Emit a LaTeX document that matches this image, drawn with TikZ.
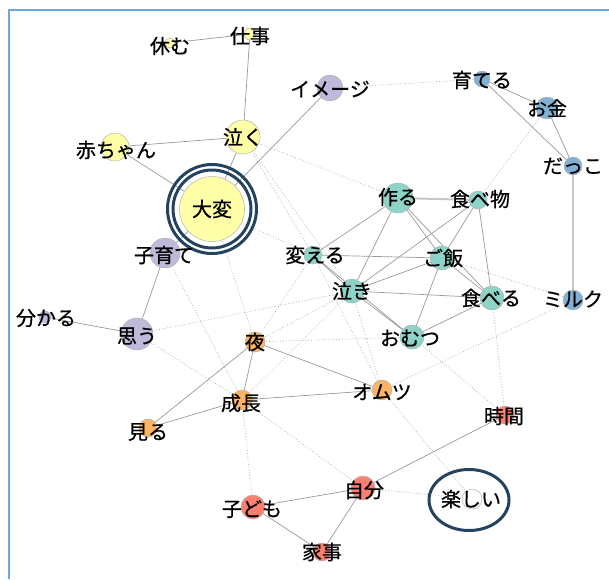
\documentclass[tikz,border=0pt]{standalone}
\usepackage{fontspec}
\usetikzlibrary{shapes.geometric}
\newfontfamily\jp[FakeBold=0.6]{Noto Sans CJK JP}
\definecolor{cY}{HTML}{FFFFA8}
\definecolor{cP}{HTML}{BEBADA}
\definecolor{cT}{HTML}{8DD3C7}
\definecolor{cB}{HTML}{80B1D3}
\definecolor{cO}{HTML}{FDB462}
\definecolor{cR}{HTML}{FB8072}
\definecolor{navy}{HTML}{24435F}
\definecolor{frame}{HTML}{6FA8DC}
\begin{document}
\begin{tikzpicture}[x=1pt,y=-1pt,
  co/.style={draw=black!40, line width=0.7pt},
  cothick/.style={draw=black!22, line width=2pt},
  dot/.style={draw=black!32, line width=0.7pt, dash pattern=on 0.8pt off 2pt},
  circ/.style={circle, draw=black!30, line width=0.5pt, inner sep=0pt},
  lab/.style={font=\jp\fontsize{20}{20}\selectfont, inner sep=0pt, text=black},
  ring/.style={draw=navy, line width=3pt}]
\useasboundingbox (0,0) rectangle (609,579);
\draw[frame, line width=2pt] (9,579) -- (9,10) -- (610,10);
% coordinates (circle centres)
\coordinate (shigoto) at (250,34);
\coordinate (yasumu) at (170,43);
\coordinate (naku) at (243,137);
\coordinate (akachan) at (115,147);
\coordinate (taihen) at (212,209);
\coordinate (image) at (330,88);
\coordinate (kosodate) at (165,253);
\coordinate (omou) at (137,334);
\coordinate (wakaru) at (45,317);
\coordinate (yoru) at (255,342);
\coordinate (seichou) at (242,400);
\coordinate (omutsuK) at (382,390);
\coordinate (miru) at (148,428);
\coordinate (jikan) at (505,415);
\coordinate (jibun) at (363,488);
\coordinate (kodomo) at (253,507);
\coordinate (kaji) at (322,552);
\coordinate (tanoshii) at (472,499);
\coordinate (tsukuru) at (398,198);
\coordinate (tabemono) at (478,200);
\coordinate (kaeru) at (313,255);
\coordinate (gohan) at (442,258);
\coordinate (naki) at (352,291);
\coordinate (taberu) at (492,298);
\coordinate (omutsu) at (412,337);
\coordinate (sodateru) at (482,79);
\coordinate (okane) at (547,108);
\coordinate (dakko) at (573,166);
\coordinate (milk) at (573,300);
% dotted edges
\draw[dot] (image) -- (sodateru);
\draw[dot] (naku) -- (tsukuru);
\draw[dot] (naku) -- (kaeru);
\draw[dot] (naku) -- (naki);
\draw[dot] (taihen) -- (kaeru);
\draw[dot] (taihen) -- (yoru);
\draw[dot] (kosodate) -- (seichou);
\draw[dot] (omou) -- (naki);
\draw[dot] (omou) -- (seichou);
\draw[dot] (yoru) -- (kaeru);
\draw[dot] (yoru) -- (naki);
\draw[dot] (yoru) -- (omutsu);
\draw[dot] (seichou) -- (naki);
\draw[dot] (seichou) -- (kodomo);
\draw[dot] (seichou) -- (jibun);
\draw[dot] (kaeru) -- (omutsuK);
\draw[dot] (naki) -- (omutsuK);
\draw[dot] (omutsuK) -- (tanoshii);
\draw[dot] (omutsuK) -- (milk);
\draw[dot] (omutsu) -- (jikan);
\draw[dot] (taberu) -- (jikan);
\draw[dot] (gohan) -- (milk);
\draw[dot] (tabemono) -- (okane);
\draw[dot] (jibun) -- (tanoshii);
% solid edges
\draw[co] (yasumu) -- (shigoto);
\draw[co] (shigoto) -- (naku);
\draw[co] (naku) -- (akachan);
\draw[co] (naku) -- (taihen);
\draw[co] (akachan) -- (taihen);
\draw[co] (taihen) -- (image);
\draw[co] (taihen) -- (kosodate);
\draw[co] (kosodate) -- (omou);
\draw[co] (omou) -- (wakaru);
\draw[co] (sodateru) -- (okane);
\draw[co] (sodateru) -- (dakko);
\draw[co] (okane) -- (dakko);
\draw[cothick] (dakko) -- (milk);
\draw[cothick] (tsukuru) -- (tabemono);
\draw[co] (tsukuru) -- (kaeru);
\draw[co] (tsukuru) -- (naki);
\draw[co] (tsukuru) -- (gohan);
\draw[co] (tsukuru) -- (taberu);
\draw[co] (tabemono) -- (naki);
\draw[co] (tabemono) -- (gohan);
\draw[co] (tabemono) -- (taberu);
\draw[co] (kaeru) -- (gohan);
\draw[co] (kaeru) -- (naki);
\draw[co] (kaeru) -- (omutsu);
\draw[co] (naki) -- (gohan);
\draw[co] (naki) -- (taberu);
\draw[co] (naki) -- (omutsu);
\draw[co] (gohan) -- (taberu);
\draw[co] (gohan) -- (omutsu);
\draw[co] (omutsu) -- (taberu);
\draw[co] (yoru) -- (seichou);
\draw[co] (yoru) -- (miru);
\draw[co] (yoru) -- (omutsuK);
\draw[co] (seichou) -- (miru);
\draw[co] (seichou) -- (omutsuK);
\draw[co] (kodomo) -- (jibun);
\draw[co] (kodomo) -- (kaji);
\draw[co] (jibun) -- (kaji);
\draw[co] (jibun) -- (jikan);
% circles
\node[circ, fill=cY, minimum size=12pt] (shigoto-c) at (shigoto) {};
\node[circ, fill=cY, minimum size=10pt] (yasumu-c) at (yasumu) {};
\node[circ, fill=cY, minimum size=34pt] (naku-c) at (naku) {};
\node[circ, fill=cY, minimum size=28pt] (akachan-c) at (akachan) {};
\node[circ, fill=cY, minimum size=65pt] (taihen-c) at (taihen) {};
\node[circ, fill=cP, minimum size=26pt] (image-c) at (image) {};
\node[circ, fill=cP, minimum size=30pt] (kosodate-c) at (kosodate) {};
\node[circ, fill=cP, minimum size=32pt] (omou-c) at (omou) {};
\node[circ, fill=cP, minimum size=12pt] (wakaru-c) at (wakaru) {};
\node[circ, fill=cO, minimum size=20pt] (yoru-c) at (yoru) {};
\node[circ, fill=cO, minimum size=20pt] (seichou-c) at (seichou) {};
\node[circ, fill=cO, minimum size=20pt] (omutsuK-c) at (omutsuK) {};
\node[circ, fill=cO, minimum size=18pt] (miru-c) at (miru) {};
\node[circ, fill=cR, minimum size=18pt] (jikan-c) at (jikan) {};
\node[circ, fill=cR, minimum size=24pt] (jibun-c) at (jibun) {};
\node[circ, fill=cR, minimum size=24pt] (kodomo-c) at (kodomo) {};
\node[circ, fill=cR, minimum size=18pt] (kaji-c) at (kaji) {};
\node[circ, fill=white, minimum size=20pt] (tanoshii-c) at (tanoshii) {};
\node[circ, fill=cT, minimum size=30pt] (tsukuru-c) at (tsukuru) {};
\node[circ, fill=cT, minimum size=18pt] (tabemono-c) at (tabemono) {};
\node[circ, fill=cT, minimum size=18pt] (kaeru-c) at (kaeru) {};
\node[circ, fill=cT, minimum size=24pt] (gohan-c) at (gohan) {};
\node[circ, fill=cT, minimum size=24pt] (naki-c) at (naki) {};
\node[circ, fill=cT, minimum size=24pt] (taberu-c) at (taberu) {};
\node[circ, fill=cT, minimum size=24pt] (omutsu-c) at (omutsu) {};
\node[circ, fill=cB, minimum size=16pt] (sodateru-c) at (sodateru) {};
\node[circ, fill=cB, minimum size=22pt] (okane-c) at (okane) {};
\node[circ, fill=cB, minimum size=18pt] (dakko-c) at (dakko) {};
\node[circ, fill=cB, minimum size=20pt] (milk-c) at (milk) {};
% highlight rings
\node[ring, circle, minimum size=89pt, inner sep=0pt] (taihen-r1) at (taihen) {};
\node[ring, circle, minimum size=78pt, inner sep=0pt] (taihen-r2) at (taihen) {};
\node[ring, ellipse, minimum width=80pt, minimum height=61pt, inner sep=0pt] (tanoshii-r) at (469,500) {};
% labels
\node[lab] (shigoto-l) at (250,36) {仕事};
\node[lab] (yasumu-l) at (170,46) {休む};
\node[lab] (naku-l) at (243,137) {泣く};
\node[lab] (akachan-l) at (116,150) {赤ちゃん};
\node[lab] (taihen-l) at (212,209) {大変};
\node[lab] (image-l) at (330,89) {イメージ};
\node[lab] (kosodate-l) at (164,255) {子育て};
\node[lab] (omou-l) at (137,336) {思う};
\node[lab] (wakaru-l) at (46,318) {分かる};
\node[lab] (yoru-l) at (255,342) {夜};
\node[lab] (seichou-l) at (241,403) {成長};
\node[lab] (omutsuK-l) at (382,392) {オムツ};
\node[lab] (miru-l) at (148,432) {見る};
\node[lab] (jikan-l) at (504,416) {時間};
\node[lab] (jibun-l) at (364,490) {自分};
\node[lab] (kodomo-l) at (252,509) {子ども};
\node[lab] (kaji-l) at (322,552) {家事};
\node[lab] (tanoshii-l) at (471,499) {楽しい};
\node[lab] (tsukuru-l) at (398,197) {作る};
\node[lab] (tabemono-l) at (480,199) {食べ物};
\node[lab] (kaeru-l) at (315,255) {変える};
\node[lab] (gohan-l) at (443,258) {ご飯};
\node[lab] (naki-l) at (352,291) {泣き};
\node[lab] (taberu-l) at (491,298) {食べる};
\node[lab] (omutsu-l) at (410,338) {おむつ};
\node[lab] (sodateru-l) at (482,80) {育てる};
\node[lab] (okane-l) at (547,108) {お金};
\node[lab] (dakko-l) at (573,166) {だっこ};
\node[lab] (milk-l) at (573,299) {ミルク};
\end{tikzpicture}
\end{document}
